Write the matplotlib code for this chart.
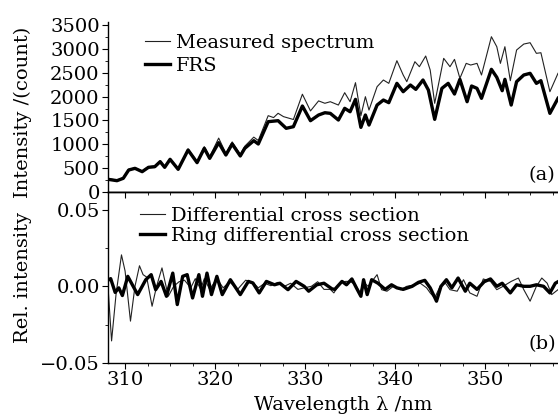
import matplotlib
matplotlib.use("Agg")
import matplotlib.pyplot as plt
from matplotlib.ticker import MultipleLocator, FixedLocator

plt.rcParams['font.family'] = ['DejaVu Serif']
plt.rcParams['mathtext.fontset'] = 'dejavuserif'

# ---- data ----
meas_wl = [308.1, 309.1, 309.8, 310.4, 311.1, 311.9, 312.6, 313.3, 313.9, 314.4, 315.0, 315.9,
           317.0, 318.0, 318.8, 319.4, 320.4, 321.2, 321.9, 322.8, 323.3, 324.3, 324.8, 325.9,
           326.5, 327.0, 327.6, 328.7, 329.7, 330.6, 331.5, 332.2, 332.8, 333.7, 334.4, 335.0,
           335.6, 336.2, 336.7, 337.1, 338.0, 338.7, 339.3, 340.2, 340.9, 341.3, 342.2, 342.7,
           343.4, 343.9, 344.4, 345.4, 346.1, 346.6, 347.2, 347.9, 348.4, 349.1, 349.6, 350.7,
           351.3, 351.7, 352.2, 352.8, 353.5, 354.3, 355.0, 355.7, 356.2, 357.2, 358.1]
measured = [280, 250, 300, 475, 505, 440, 530, 545, 650, 530, 700, 490,
            900, 640, 950, 740, 1130, 810, 1050, 790, 960, 1150, 1080, 1600,
            1560, 1650, 1580, 1520, 2050, 1700, 1910, 1860, 1893, 1823, 2082, 1893,
            2292, 1600, 1998, 1718, 2208, 2348, 2278, 2753, 2453, 2313, 2732, 2627,
            2851, 2558, 1859, 2802, 2627, 2781, 2383, 2697, 2662, 2697, 2453, 3256,
            3046, 2697, 3046, 2334, 2977, 3102, 3130, 2907, 2920, 2103, 2488]

frs_wl = [308.1, 309.1, 309.8, 310.4, 311.1, 311.9, 312.6, 313.3, 313.9, 314.4, 315.0, 315.9,
          317.0, 318.0, 318.8, 319.4, 320.4, 321.2, 321.9, 322.8, 323.3, 324.3, 324.8, 325.9,
          327.0, 327.9, 328.7, 329.7, 330.6, 331.5, 332.2, 332.8, 333.7, 334.4, 335.0, 335.6,
          336.2, 336.7, 337.1, 338.0, 338.7, 339.3, 340.2, 340.9, 341.7, 342.3, 343.1, 343.7,
          344.4, 345.2, 345.9, 346.6, 347.2, 348.0, 348.5, 349.1, 349.6, 350.7, 351.3, 351.9,
          352.2, 352.9, 353.5, 354.3, 355.0, 355.7, 356.2, 357.2, 358.1]
frs = [266, 237, 287, 461, 496, 426, 517, 530, 636, 517, 685, 475,
       880, 615, 915, 705, 1034, 775, 1006, 755, 915, 1076, 1006, 1474,
       1495, 1335, 1369, 1803, 1495, 1614, 1662, 1649, 1509, 1754, 1683, 1942,
       1355, 1614, 1404, 1823, 1928, 1873, 2278, 2103, 2243, 2152, 2348, 2138,
       1523, 2173, 2278, 2054, 2362, 1893, 2222, 2173, 1964, 2572, 2404, 2124,
       2362, 1823, 2313, 2453, 2488, 2278, 2334, 1649, 1964]

dcs_wl = [308.1, 308.5, 309.0, 309.6, 310.0, 310.6, 311.1, 311.6, 312.0, 312.4, 313.0, 313.5,
          314.1, 314.8, 315.4, 316.0, 316.6, 317.3, 317.8, 318.4, 318.8, 319.4, 320.2, 320.9,
          321.6, 322.5, 323.4, 324.3, 324.8, 325.5, 326.2, 327.0, 327.7, 328.4, 329.2, 329.9,
          330.7, 331.4, 332.1, 332.8, 333.2, 333.9, 334.5, 335.0, 335.6, 336.1, 336.5, 337.0,
          338.0, 338.5, 339.1, 339.8, 340.6, 341.3, 342.2, 342.8, 343.5, 343.9, 344.4, 345.0,
          345.6, 346.1, 346.9, 347.6, 348.3, 349.1, 349.8, 350.6, 351.3, 352.0, 352.9, 353.7,
          354.3, 355.0, 355.7, 356.3, 356.9, 357.4, 358.1]
dcs = [0.000, -0.0356, -0.005, 0.0205, 0.010, -0.0227, 0.000, 0.0134, 0.0076, 0.006, -0.013, 0.000,
       0.012, -0.0065, 0.000, 0.003, 0.004, -0.001, 0.005, -0.002, 0.005, -0.002, 0.005, -0.001,
       0.003, -0.002, 0.004, 0.002, -0.001, 0.002, 0.0004, 0.0026, 0.000, 0.002, -0.002, -0.001,
       0.000, 0.003, -0.002, -0.002, -0.0043, 0.0022, 0.0032, 0.0032, 0.001, -0.0043, 0.0026, 0.000,
       0.0076, -0.0022, -0.0032, 0.000, -0.0022, 0.000, 0.001, 0.002, -0.001, -0.0043, -0.0076, 0.000,
       0.002, -0.0022, -0.0032, 0.0043, -0.0043, -0.0065, 0.0048, 0.0032, -0.0022, 0.000, 0.0032, 0.0054,
       -0.0022, -0.0097, 0.000, 0.0054, 0.002, -0.0054, -0.0022]

ring_wl = [308.1, 308.4, 308.9, 309.3, 309.7, 310.3, 310.9, 311.4, 312.3, 312.9, 313.4, 314.0,
           314.6, 315.3, 315.8, 316.4, 316.9, 317.5, 318.2, 318.6, 319.1, 319.6, 320.2, 320.8,
           321.7, 322.8, 323.7, 324.2, 324.9, 325.7, 326.6, 327.2, 328.1, 329.0, 329.9, 330.4,
           331.3, 332.1, 333.0, 333.3, 334.1, 334.6, 335.2, 335.7, 336.2, 336.5, 336.9, 337.4,
           338.1, 338.9, 339.6, 340.2, 340.9, 341.9, 342.6, 343.3, 343.9, 344.6, 345.1, 345.7,
           346.3, 347.0, 347.8, 348.3, 349.1, 349.9, 350.6, 351.3, 351.9, 352.8, 353.5, 354.3,
           355.0, 355.7, 356.5, 357.2, 357.8, 358.1]
ring = [0.004, 0.005, -0.004, -0.001, -0.006, 0.0065, 0.000, -0.0054, 0.0043, 0.0076, -0.0022, 0.0032,
        -0.0065, 0.0086, -0.0119, 0.0065, 0.0076, -0.0076, 0.0076, -0.0065, 0.0086, -0.0054, 0.0065, -0.0054,
        0.0043, -0.0054, 0.0032, 0.0022, -0.0043, 0.0032, 0.001, 0.002, -0.0022, 0.0032, 0.000, -0.0032,
        0.001, 0.002, -0.0017, -0.002, 0.0032, 0.001, 0.0048, -0.001, -0.0065, 0.0043, -0.0054, 0.0043,
        0.002, -0.002, 0.001, -0.001, -0.002, 0.000, 0.0026, 0.0039, -0.001, -0.0097, 0.000, 0.0043,
        -0.001, 0.0054, -0.0032, 0.002, -0.002, 0.003, 0.0048, 0.000, 0.002, -0.0043, 0.001, 0.000,
        0.000, 0.001, 0.000, -0.0043, 0.002, 0.003]

top_yticks = [0, 500, 1000, 1500, 2000, 2500, 3000, 3500]
bot_yticks = [-0.05, 0.00, 0.05]
bot_yticklabels = ["\u22120.05", "0.00", "0.05"]
xticks = [310, 320, 330, 340, 350]

FS = 14
fig = plt.figure(figsize=(5.58, 4.16), dpi=100)
ax1 = fig.add_axes([0.1935, 0.5385, 0.8065, 0.4087])
ax2 = fig.add_axes([0.1935, 0.1274, 0.8065, 0.4111])

thin_kw = dict(color='#222222', lw=0.8)
thick_kw = dict(color='black', lw=2.4)

ax1.plot(meas_wl, measured, label='Measured spectrum', **thin_kw)
ax1.plot(frs_wl, frs, label='FRS', **thick_kw)
ax2.plot(dcs_wl, dcs, label='Differential cross section', **thin_kw)
ax2.plot(ring_wl, ring, label='Ring differential cross section', **thick_kw)

for ax in (ax1, ax2):
    ax.set_xlim(308.1, 358.1)
    ax.spines['right'].set_visible(False)
    for s in ax.spines.values():
        s.set_linewidth(1.0)

ax1.spines['top'].set_visible(False)
ax1.set_ylim(0, 3565)
ax1.yaxis.set_major_locator(FixedLocator(top_yticks))
ax1.yaxis.set_minor_locator(MultipleLocator(250))
ax1.tick_params(axis='x', which='both', bottom=False, labelbottom=False)
ax1.tick_params(axis='y', which='major', direction='out', length=4, labelsize=FS, pad=2)
ax1.tick_params(axis='y', which='minor', direction='out', length=2.5)
ax1.set_ylabel('Intensity /(count)', fontsize=FS)
ax1.yaxis.set_label_coords(-0.168, 0.47)

ax2.set_ylim(-0.05, 0.0615)
ax2.set_yticks(bot_yticks)
ax2.set_yticklabels(bot_yticklabels)
ax2.yaxis.set_minor_locator(MultipleLocator(0.025))
ax2.set_xticks(xticks)
ax2.xaxis.set_minor_locator(MultipleLocator(2.5))
ax2.tick_params(axis='y', which='major', direction='out', length=4, labelsize=FS, pad=2)
ax2.tick_params(axis='y', which='minor', direction='out', length=2.5)
ax2.tick_params(axis='x', which='major', direction='out', length=4, labelsize=FS, pad=2)
ax2.tick_params(axis='x', which='minor', direction='out', length=2.5)
ax2.set_ylabel('Rel. intensity', fontsize=FS)
ax2.yaxis.set_label_coords(-0.168, 0.5)
ax2.set_xlabel('Wavelength \u03bb /nm', fontsize=FS)
ax2.xaxis.set_label_coords(0.522, -0.195)

# inward ticks along the shared line (top of lower panel)
sec = ax2.secondary_xaxis('top')
sec.set_xticks(xticks)
sec.xaxis.set_minor_locator(MultipleLocator(2.5))
sec.tick_params(axis='x', which='major', direction='in', length=4, labeltop=False)
sec.tick_params(axis='x', which='minor', direction='in', length=2.5)
sec.spines['top'].set_linewidth(1.0)

top_leg = dict(frameon=False, fontsize=FS, handlelength=1.3, handletextpad=0.3,
               labelspacing=0.25, borderpad=0, borderaxespad=0, loc='upper left')
bot_leg = dict(frameon=False, fontsize=FS, handlelength=1.3, handletextpad=0.3,
               labelspacing=0.1, borderpad=0, borderaxespad=0, loc='upper left')
ax1.legend(bbox_to_anchor=(0.082, 0.93), **top_leg)
ax2.legend(bbox_to_anchor=(0.071, 0.912), **bot_leg)

ax1.text(0.995, 0.1, '(a)', transform=ax1.transAxes, ha='right', va='center', fontsize=FS)
ax2.text(0.995, 0.11, '(b)', transform=ax2.transAxes, ha='right', va='center', fontsize=FS)

fig.savefig('out.png', dpi=100)
